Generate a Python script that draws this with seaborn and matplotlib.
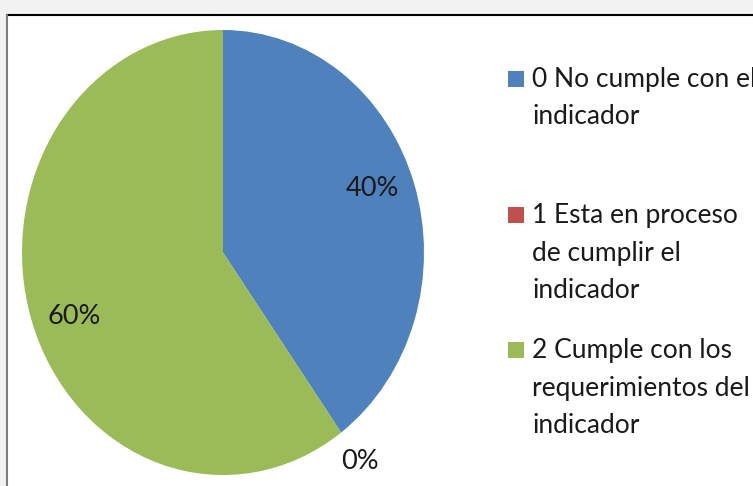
import matplotlib.pyplot as plt
import matplotlib.patches as mpatches
import seaborn as sns

# datos
categorias = ['0 No cumple con el\nindicador',
              '1 Esta en proceso\nde cumplir el\nindicador',
              '2 Cumple con los\nrequerimientos del\nindicador']
porcentajes = [40, 0, 60]
colores = ['#4f81bd', '#c0504d', '#9bbb59']

sns.set_style('white')
plt.rcParams['font.family'] = ['Lato', 'DejaVu Sans']

W, H = 753, 486
fig = plt.figure(figsize=(W / 100, H / 100), dpi=100)
fig.patch.set_facecolor('#f2f2f2')

# marco blanco del grafico (recortado como en la captura)
marco = mpatches.Rectangle((7 / W, -0.1), 1.2, (H - 15) / H + 0.1,
                           transform=fig.transFigure, facecolor='white',
                           edgecolor='none', zorder=-5)
fig.patches.append(marco)
fig.add_artist(plt.Line2D([7 / W, 1], [(H - 15) / H] * 2, color='black', lw=1.5))
fig.add_artist(plt.Line2D([7 / W] * 2, [0, (H - 15) / H], color='#7f7f7f', lw=1.5))

ax = fig.add_axes([22 / W, (H - 475) / H, 402 / W, 445 / H])
ax.set_facecolor('none')
wedges, texts, autotexts = ax.pie(porcentajes, colors=colores, startangle=90,
                                  counterclock=False, autopct='%.0f%%',
                                  pctdistance=0.78,
                                  wedgeprops={'linewidth': 0},
                                  textprops={'fontsize': 19.5, 'color': '#1a1a1a'})
ax.set_aspect('auto')
ax.set_xlim(-1, 1)
ax.set_ylim(-1, 1)

# ajuste de posicion de las etiquetas; la del 0% va fuera del circulo
for v, t in zip(porcentajes, autotexts):
    x, y = t.get_position()
    if v == 0:
        t.set_position((x / 0.78 * 1.16, y / 0.78 * 1.16))
    else:
        t.set_position((x, y * 1.2))

# leyenda a la derecha
inicio = [87, 223, 358]
for cat, col, y0 in zip(categorias, colores, inicio):
    fig.patches.append(mpatches.Rectangle((508 / W, (H - y0) / H), 16 / W, 16 / H,
                                          transform=fig.transFigure,
                                          facecolor=col, edgecolor='none'))
    for i, linea in enumerate(cat.split('\n')):
        fig.text(532 / W, (H - y0 - i * 37.5) / H, linea, fontsize=19,
                 color='#1a1a1a', va='baseline', ha='left')

fig.savefig('out.png', dpi=100)
